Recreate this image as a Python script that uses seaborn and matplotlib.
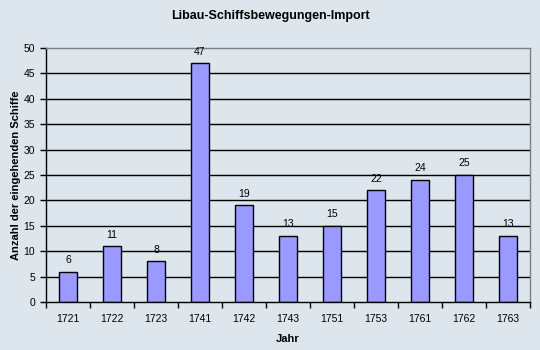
import matplotlib
matplotlib.use("Agg")
import matplotlib.pyplot as plt
import seaborn as sns
import pandas as pd

years = ["1721", "1722", "1723", "1741", "1742", "1743", "1751", "1753", "1761", "1762", "1763"]
ships = [6, 11, 8, 47, 19, 13, 15, 22, 24, 25, 13]
title = "Libau-Schiffsbewegungen-Import"
xlabel = "Jahr"
ylabel = "Anzahl der eingehenden Schiffe"

sns.set_theme(style="white")
plt.rcParams["font.family"] = ["Liberation Sans", "DejaVu Sans"]
plt.rcParams["text.color"] = "black"
plt.rcParams["axes.labelcolor"] = "black"
plt.rcParams["xtick.color"] = "black"
plt.rcParams["ytick.color"] = "black"

bg = "#dce6ec"
df = pd.DataFrame({"Jahr": years, "Schiffe": ships})

fig = plt.figure(figsize=(5.4, 3.5), dpi=100, facecolor=bg)
ax = fig.add_axes([46 / 540, 48 / 350, 484 / 540, 254 / 350])
ax.set_facecolor(bg)

sns.barplot(data=df, x="Jahr", y="Schiffe", ax=ax, color="#9999ff",
            edgecolor="black", linewidth=1.0, width=0.39, saturation=1)

for i, v in enumerate(ships):
    ax.text(i, v + 1.3, str(v), ha="center", va="bottom", fontsize=7.5, color="black")

ax.set_ylim(0, 50)
ax.set_xlim(-0.5, len(years) - 0.5)
ax.set_yticks(range(0, 51, 5))
for y in range(5, 50, 5):
    ax.axhline(y, color="black", linewidth=1.0, zorder=0)
ax.set_axisbelow(True)

ax.spines["top"].set_color("#808080")
ax.spines["right"].set_color("#808080")
ax.spines["left"].set_color("black")
ax.spines["bottom"].set_color("black")
for s in ax.spines.values():
    s.set_linewidth(1.0)

ax.set_xticks([i + 0.5 for i in range(-1, len(years))], minor=True)
ax.tick_params(axis="x", which="major", length=0, pad=9, labelsize=7.5, labelcolor="black")
ax.tick_params(axis="x", which="minor", length=4, width=1, color="black", direction="out", bottom=True)
ax.tick_params(axis="y", which="major", length=4, width=1, color="black", direction="out", left=True,
               labelsize=7.5, pad=4, labelcolor="black")

ax.set_xlabel(xlabel, fontsize=8, fontweight="bold", labelpad=7, color="black")
ax.set_ylabel(ylabel, fontsize=8, fontweight="bold", color="black")
ax.yaxis.set_label_coords(-0.052, 0.5)
fig.suptitle(title, fontsize=9, fontweight="bold", y=0.97, color="black")

fig.savefig("out.png", dpi=100, facecolor=bg)
